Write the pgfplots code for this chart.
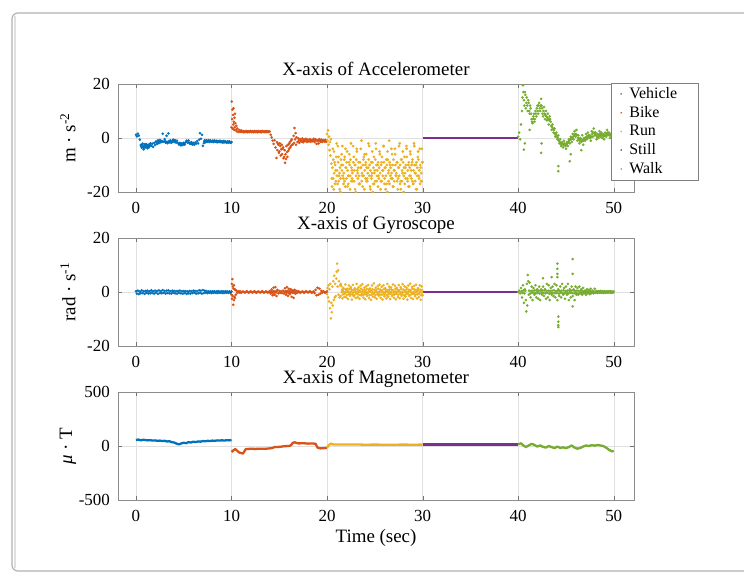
\documentclass[border=0pt]{standalone}
\usepackage{fontspec}
\setmainfont{Liberation Serif}
\usepackage{pgfplots}
\pgfplotsset{compat=1.18}

\definecolor{veh}{RGB}{0,114,189}
\definecolor{bike}{RGB}{217,83,25}
\definecolor{run}{RGB}{237,177,32}
\definecolor{still}{RGB}{126,47,142}
\definecolor{walk}{RGB}{119,172,48}

\pgfplotsset{
  panel/.style={
    scale only axis, width=516bp, height=108bp,
    xmin=-1.88, xmax=52.12,
    xtick={0,10,...,50},
    grid=major, major grid style={black!12},
    axis line style={black!45}, tick style={black!55},
    major tick length=4bp, tick align=inside,
    /pgf/number format/assume math mode=true,
    tick label style={font=\fontsize{17}{17}\selectfont},
    x tick label style={anchor=base, yshift=-22bp},
    y tick label style={anchor=east, inner sep=0pt, xshift=-8bp},
    title style={font=\fontsize{19}{19}\selectfont, at={(0.5,1)}, anchor=base, yshift=3bp},
    y label style={font=\fontsize{19}{19}\selectfont, at={(axis description cs:-0.097,0.5)}, anchor=center},
    x label style={font=\fontsize{19}{19}\selectfont, at={(axis description cs:0.5,-0.352)}, anchor=center},
  },
  dots/.style={#1, only marks, mark=*, mark size=1.1bp, forget plot},
  trace/.style={#1, line width=2.3bp, line join=round, no marks, forget plot},
}

\begin{document}
\begin{tikzpicture}
\path[use as bounding box] (0,0) rectangle (744bp,577bp);
\fill[white] (0,0) rectangle (744bp,577bp);
\draw[black!30, line width=1.2bp, rounded corners=6bp] (12bp,6bp) rectangle (770bp,564bp);
\draw[black!12, line width=1.5bp] (15bp,9bp) -- (15bp,561bp);

% ---- accelerometer
\begin{axis}[panel, at={(118bp,385bp)}, anchor=south west,
  ymin=-20, ymax=20, ytick={-20,0,20},
  title={X-axis of Accelerometer},
  ylabel={m · s\textsuperscript{-2}},
  legend image code/.code={\path (0bp,-4bp) (14bp,4bp); \fill[#1, draw=none] (8bp,0bp) circle (0.9bp);},
  legend style={at={(0.955,1.01)}, anchor=north west, draw=black!50,
    font=\fontsize{16}{16}\selectfont, inner xsep=2bp, inner ysep=2.5bp, row sep=2.4bp,
    cells={anchor=west}},
  ]
\addlegendimage{veh}
\addlegendentry{Vehicle\hspace*{17bp}}
\addlegendimage{bike}
\addlegendentry{Bike}
\addlegendimage{run}
\addlegendentry{Run}
\addlegendimage{still}
\addlegendentry{Still}
\addlegendimage{walk}
\addlegendentry{Walk}

\addplot[dots=veh] coordinates {
(0,1.2)(0.1,0.6)(0.2,1.6)(0.3,0.9)(0.4,-0.6)(0.5,-2.6)(0.6,-3.6)(0.7,-2.1)(0.8,-4.2)(0.9,-2.7)
(1,-3.4)(1.1,-2.3)(1.2,-3.8)(1.3,-2.5)(1.4,-3.1)(1.5,-2)(1.6,-2.9)(1.7,-2.1)(1.8,-3.3)(1.9,-1.8)
(2,-2.6)(2.1,-1.3)(2.2,-2.2)(2.3,-0.9)(2.4,-1.9)(2.5,-0.7)(2.6,-1.6)(2.7,-1.1)(2.8,1.6)(2.9,-1.4)
(3,-0.4)(3.1,-1.7)(3.2,0.8)(3.3,-1.9)(3.4,1.7)(3.5,-1.6)(3.6,-0.9)(3.7,-1.8)(3.8,-1.3)(3.9,-0.6)
(4,-1.5)(4.1,-0.8)(4.2,-1.7)(4.3,-1)(4.4,-1.9)(4.5,-2.4)(4.6,-1.8)(4.7,-2.7)(4.8,-2)(4.9,-2.6)
(5,-1.8)(5.1,-2.4)(5.2,-1.6)(5.3,-1)(5.4,-1.7)(5.5,-0.9)(5.6,-1.8)(5.7,-2.2)(5.8,-1.5)(5.9,-2.4)
(6,-1.8)(6.1,-2.5)(6.2,-1.7)(6.3,-2.1)(6.4,-1.2)(6.5,-2)(6.6,-0.6)(6.7,1.8)(6.8,-0.3)(6.9,1.2)
(7,-2.9)(7.1,-1.9)(7.2,-0.8)(7.3,-1.6)(7.4,-0.9)(7.5,-1.4)(7.6,-0.8)(7.7,-1.5)(7.8,-0.9)(7.9,-1.4)
(8,-1)(8.1,-1.5)(8.2,-0.9)(8.3,-1.4)(8.4,-1)(8.5,-1.6)(8.6,-1.1)(8.7,-1.5)(8.8,-1)(8.9,-1.6)
(9,-1.2)(9.1,-1.7)(9.2,-1.1)(9.3,-1.6)(9.4,-1.3)(9.5,-1.8)(9.6,-1.2)(9.7,-1.7)(9.8,-1.3)(9.9,-1.8)(10,-1.5)
(0.55,-3)(0.65,-2.4)(0.75,-3.2)(0.85,-3.6)(0.95,-2.2)(1.05,-2.9)(1.15,-3.1)(1.25,-2.8)(1.35,-3.5)(1.45,-2.6)
(4.55,-2.1)(4.65,-2.3)(4.75,-2.2)(4.85,-2.4)(4.95,-2.1)(5.05,-2.2)(5.65,-2)(5.75,-1.9)(5.85,-2)(5.95,-2.1)
(2.15,-1.8)(2.35,-1.5)(2.55,-1.2)(2.75,-1.3)(3.05,-1.2)(3.25,-1.4)(3.45,-1.1)(3.65,-1.4)(3.85,-1)(4.05,-1.2)
(7.15,-1.2)(7.35,-1.2)(7.55,-1.1)(7.75,-1.2)(7.95,-1.2)(8.15,-1.2)(8.35,-1.2)(8.55,-1.3)(8.75,-1.3)(8.95,-1.4)
(9.15,-1.4)(9.35,-1.5)(9.55,-1.5)(9.75,-1.5)(9.95,-1.6)
};
\addplot[dots=bike] coordinates {
(10,4)(10.03,13.5)(10.06,7)(10.09,10.5)(10.12,3.5)(10.15,8.5)(10.18,5)(10.21,11)(10.24,6)(10.27,3)
(10.3,7.5)(10.33,4)(10.36,9)(10.4,5.5)(10.45,3)(10.5,4.5)(10.55,2.5)(10.6,3.5)(10.7,2.2)(10.8,3)
(10.9,2.3)(11,2.8)(11.1,2.2)(11.2,2.6)(11.3,2.1)(11.4,2.5)(11.5,2.2)(11.6,2.6)(11.7,2.1)(11.8,2.5)
(11.9,2.2)(12,2.6)(12.1,2.2)(12.2,2.5)(12.3,2.1)(12.4,2.6)(12.5,2.2)(12.6,2.5)(12.7,2.1)(12.8,2.6)
(12.9,2.2)(13,2.5)(13.1,2.1)(13.2,2.6)(13.3,2.2)(13.4,2.5)(13.5,2.1)(13.6,2.6)(13.7,2.2)(13.8,2.5)
(13.9,2.2)(14,2.4)(14.1,1.2)(14.2,0.2)(14.3,-1)(14.4,-2.2)(14.5,-0.8)(14.6,-3.5)(14.7,-7.4)(14.75,-1.5)
(14.8,-4.5)(14.85,-2)(14.9,-2.5)(14.95,-5.5)(15,-5)(15.05,-2)(15.1,-3)(15.15,-6.5)(15.2,-4.2)(15.25,-2.5)
(15.3,-6)(15.35,-4)(15.4,-3.5)(15.45,-7.5)(15.5,-7)(15.55,-4.5)(15.6,-9.2)(15.65,-6)(15.7,-7.8)(15.75,-3)
(15.8,-5.2)(15.85,-7)(15.9,-2.5)(15.95,-4.8)(16,-4)(16.05,-2)(16.1,-1.5)(16.15,-3.5)(16.2,-3)(16.25,-1)
(16.3,-0.5)(16.35,-2.5)(16.4,-2.4)(16.5,0.8)(16.55,-1.8)(16.6,3.7)(16.65,-0.5)(16.7,1.8)(16.75,-2.5)(16.8,0.3)
(16.9,-1.5)(17,-0.2)(17.1,-1.8)(17.2,-0.4)(17.3,-1.3)(17.4,-0.2)(17.5,-1.6)(17.6,-0.5)(17.7,-1.2)(17.8,-0.3)
(17.9,-1.5)(18,-0.6)(18.1,-1.3)(18.2,-0.4)(18.3,-1.4)(18.4,-0.7)(18.5,-1.2)(18.6,-0.3)(18.7,-1.5)(18.8,-0.5)
(18.9,-2.2)(19,-0.8)(19.1,-2)(19.2,-0.4)(19.3,-1.4)(19.4,-0.6)(19.5,-1.5)(19.6,-0.8)(19.7,-1.3)(19.8,-0.7)
(19.9,-1.4)(20,-1)
(11.05,2.4)(11.25,2.4)(11.45,2.4)(11.65,2.4)(11.85,2.4)(12.05,2.4)(12.25,2.4)(12.45,2.4)(12.65,2.4)(12.85,2.4)
(13.05,2.4)(13.25,2.4)(13.45,2.4)(13.65,2.4)(13.85,2.4)(17.05,-1)(17.25,-0.9)(17.45,-1)(17.65,-0.9)(17.85,-1)
(18.05,-1)(18.25,-0.9)(18.45,-1)(18.65,-0.9)(18.85,-1)(19.05,-1)(19.25,-0.9)(19.45,-1)(19.65,-0.9)(19.85,-1)
};
\addplot[dots=run, mark size=1.2bp] coordinates {
(20,1.5)(20.05,-1)(20.1,2.8)(20.15,-2.5)(20.2,0.5)(20.25,-4.5)(20.3,-1.5)(20.35,-6.5)(20.4,-0.5)(20.45,-9.5)
(20.5,-15)(20.6,-4)(20.7,-19)(20.8,-9)(20.9,-12)(21,-2)(21.1,-17)(21.2,-7)(21.3,-13)(21.4,-20)
(21.5,-10)(21.6,-3)(21.7,-15)(21.8,-8)(21.9,-18)(22,-11)(22.1,-5)(22.2,-14)(22.3,-9)(22.4,-19)
(22.5,-2)(22.6,-12)(22.7,-16)(22.8,-7)(22.9,-10)(23,-20)(23.1,-4)(23.2,-13)(23.3,-9)(23.4,-17)
(23.5,-11)(23.6,-1)(23.7,-14)(23.8,-8)(23.9,-19)(24,-10)(24.1,-6)(24.2,-15)(24.3,-11)(24.4,-3)
(24.5,-18)(24.6,-9)(24.7,-13)(24.8,-20)(24.9,-7)(25,-12)(25.1,-2)(25.2,-16)(25.3,-10)(25.4,-14)
(25.5,-5)(25.6,-19)(25.7,-9)(25.8,-12)(25.9,-3)(26,-17)(26.1,-11)(26.2,-8)(26.3,-20)(26.4,-13)
(26.5,-1)(26.6,-10)(26.7,-15)(26.8,-6)(26.9,-18)(27,-12)(27.1,-4)(27.2,-14)(27.3,-9)(27.4,-19)
(27.5,-11)(27.6,-2)(27.7,-16)(27.8,-8)(27.9,-13)(28,-20)(28.1,-7)(28.2,-11)(28.3,-3)(28.4,-15)
(28.5,-10)(28.6,-18)(28.7,-5)(28.8,-12)(28.9,-9)(29,-17)(29.1,-2)(29.2,-13)(29.3,-10)(29.4,-19)
(29.5,-7)(29.6,-14)(29.7,-4)(29.8,-11)(29.9,-16)(30,-9)
(20.55,-11)(20.65,-8)(20.75,-13)(20.85,-10)(20.95,-7)(21.05,-12)(21.15,-9)(21.25,-14)(21.35,-11)(21.45,-8)
(21.55,-12)(21.65,-10)(21.75,-13)(21.85,-7)(21.95,-11)(22.05,-9)(22.15,-12)(22.25,-14)(22.35,-10)(22.45,-8)
(22.55,-11)(22.65,-13)(22.75,-9)(22.85,-12)(22.95,-10)(23.05,-8)(23.15,-12)(23.25,-11)(23.35,-14)(23.45,-9)
(23.55,-11)(23.65,-13)(23.75,-10)(23.85,-7)(23.95,-12)(24.05,-9)(24.15,-11)(24.25,-13)(24.35,-8)(24.45,-10)
(24.55,-12)(24.65,-14)(24.75,-9)(24.85,-11)(24.95,-13)(25.05,-8)(25.15,-10)(25.25,-12)(25.35,-9)(25.45,-11)
(25.55,-13)(25.65,-10)(25.75,-7)(25.85,-12)(25.95,-9)(26.05,-11)(26.15,-14)(26.25,-10)(26.35,-8)(26.45,-12)
(26.55,-9)(26.65,-11)(26.75,-13)(26.85,-10)(26.95,-8)(27.05,-12)(27.15,-10)(27.25,-13)(27.35,-9)(27.45,-11)
(27.55,-14)(27.65,-10)(27.75,-8)(27.85,-12)(27.95,-9)(28.05,-11)(28.15,-13)(28.25,-10)(28.35,-7)(28.45,-12)
(28.55,-9)(28.65,-11)(28.75,-14)(28.85,-10)(28.95,-8)(29.05,-12)(29.15,-10)(29.25,-13)(29.35,-9)(29.45,-11)
(29.55,-8)(29.65,-12)(29.75,-10)(29.85,-13)(29.95,-9)
(20.525,-18)(20.725,-5)(20.925,-16)(21.125,-3)(21.325,-19)(21.525,-6)(21.725,-17)(21.925,-4)(22.125,-18)(22.325,-6)
(22.525,-16)(22.725,-3)(22.925,-19)(23.125,-5)(23.325,-17)(23.525,-4)(23.725,-18)(23.925,-6)(24.125,-16)(24.325,-2)
(24.525,-19)(24.725,-5)(24.925,-17)(25.125,-4)(25.325,-18)(25.525,-6)(25.725,-16)(25.925,-3)(26.125,-19)(26.325,-5)
(26.525,-17)(26.725,-4)(26.925,-18)(27.125,-6)(27.325,-16)(27.525,-3)(27.725,-19)(27.925,-5)(28.125,-17)(28.325,-4)
(28.525,-18)(28.725,-6)(28.925,-16)(29.125,-3)(29.325,-19)(29.525,-5)(29.725,-17)(29.925,-4)
(20.625,-15)(20.825,-17)(21.025,-14)(21.225,-16)(21.425,-15)(21.625,-14)(21.825,-16)(22.025,-15)(22.225,-17)(22.425,-14)
(22.625,-15)(22.825,-16)(23.025,-14)(23.225,-15)(23.425,-17)(23.625,-16)(23.825,-14)(24.025,-15)(24.225,-16)(24.425,-14)
(24.625,-15)(24.825,-17)(25.025,-16)(25.225,-14)(25.425,-15)(25.625,-16)(25.825,-14)(26.025,-15)(26.225,-17)(26.425,-16)
(26.625,-14)(26.825,-15)(27.025,-16)(27.225,-14)(27.425,-15)(27.625,-17)(27.825,-16)(28.025,-14)(28.225,-15)(28.425,-16)
(28.625,-14)(28.825,-15)(29.025,-17)(29.225,-16)(29.425,-14)(29.625,-15)(29.825,-16)
};
\addplot[trace=still, line width=2bp] coordinates {(30,0)(40,0)};
\addplot[dots=walk] coordinates {
(40,0.5)(40.1,2)(40.2,-0.5)(40.3,5)(40.4,10)(40.5,19.5)(40.6,14)(40.7,17)(40.8,11)(40.9,15)
(41,10)(41.1,13)(41.2,9)(41.3,11)(41.4,7)(41.5,5.5)(41.6,8)(41.7,6)(41.8,10)(41.9,8)
(42,12)(42.1,9)(42.2,13)(42.3,10)(42.4,14.5)(42.5,11)(42.6,8)(42.7,11.5)(42.8,7)(42.9,10)
(43,6.5)(43.1,9)(43.2,5)(43.3,8)(43.4,6)(43.5,3)(43.6,5)(43.7,2)(43.8,3.5)(43.9,0.5)
(44,2)(44.1,-0.5)(44.2,1)(44.3,-2)(44.4,-0.5)(44.5,-3)(44.6,-1.5)(44.7,-3.5)(44.8,-1)(44.9,-2.5)
(45,-4)(45.1,-1.5)(45.2,-3)(45.3,-0.5)(45.4,-2)(45.5,0.5)(45.6,-1.5)(45.7,1.5)(45.8,-0.5)(45.9,2.5)
(46,0.5)(46.1,3)(46.2,-1)(46.3,1)(46.4,-2)(46.5,0)(46.6,-1.5)(46.7,1)(46.8,-2.5)(46.9,0)
(47,-1)(47.1,1.5)(47.2,-0.5)(47.3,2)(47.4,0)(47.5,1)(47.6,-1)(47.7,2.5)(47.8,0.5)(47.9,3.5)
(48,1)(48.1,2)(48.2,-0.5)(48.3,1.5)(48.4,0)(48.5,2.5)(48.6,0.5)(48.7,2)(48.8,0)(48.9,1.5)
(49,-0.5)(49.1,2)(49.2,0.5)(49.3,3)(49.4,1)(49.5,2)(49.6,0)(49.7,1.5)(49.8,0.5)(49.9,2)(50,1)
(40.45,15)(40.55,17)(40.65,12)(40.75,16)(40.85,13)(40.95,12)(41.05,14)(41.15,10)(41.25,12)(41.35,9)
(41.45,6)(41.55,7)(41.65,9)(41.75,7)(41.85,9)(41.95,11)(42.05,10)(42.15,12)(42.25,11)(42.35,12)
(42.45,12)(42.55,9)(42.65,10)(42.75,9)(42.85,8.5)(42.95,8)(43.05,7.5)(43.15,7)(43.25,6.5)(43.35,7)
(43.45,4.5)(43.55,4)(43.65,3.5)(43.75,3)(43.85,1.5)(43.95,1)(44.05,0.5)(44.15,0)(44.25,-1)(44.35,-1.5)
(44.45,-2)(44.55,-2.5)(44.65,-2)(44.75,-2.5)(44.85,-2)(44.95,-3)(45.05,-2.5)(45.15,-2)(45.25,-1.5)(45.35,-1)
(45.45,-0.5)(45.55,-0.5)(45.65,0)(45.75,0.5)(45.85,1)(45.95,1.5)(46.05,1.5)(46.15,1)(46.25,0)(46.35,-0.5)
(46.45,-1)(46.55,-0.5)(46.65,-0.5)(46.75,-1)(46.85,-1)(46.95,-0.5)(47.05,0)(47.15,0.5)(47.25,0.5)(47.35,1)
(47.45,0.5)(47.55,0)(47.65,0.5)(47.75,1.5)(47.85,2)(47.95,2)(48.05,1.5)(48.15,1)(48.25,0.5)(48.35,0.5)
(48.45,1)(48.55,1.5)(48.65,1)(48.75,1)(48.85,1)(48.95,0.5)(49.05,1)(49.15,1)(49.25,1.5)(49.35,2)
(49.45,1.5)(49.55,1)(49.65,1)(49.75,1)(49.85,1)(49.95,1.5)
(40.6,-4.3)(40.7,-2)(41.2,3)(42.4,-5.5)(42.45,-2)(44.2,-10.4)(44.2,-12.3)(45.4,-8.6)(45.5,-6)(46.6,-4.5)
};
\end{axis}

% ---- gyroscope
\begin{axis}[panel, at={(118bp,231bp)}, anchor=south west,
  ymin=-20, ymax=20, ytick={-20,0,20},
  title={X-axis of Gyroscope},
  ylabel={rad · s\textsuperscript{-1}},
  ]
\addplot[dots=veh] coordinates {
(0,0.3)(0.1,-0.6)(0.2,0.5)(0.3,-0.8)(0.4,0.2)(0.5,-0.5)(0.6,0.6)(0.7,-0.4)(0.8,0.3)(0.9,-0.7)
(1,0.4)(1.1,-0.3)(1.2,0.5)(1.3,-0.6)(1.4,0.2)(1.5,-0.5)(1.6,0.6)(1.7,-0.4)(1.8,0.3)(1.9,-0.6)
(2,0.5)(2.1,-0.3)(2.2,0.4)(2.3,-0.7)(2.4,0.6)(2.5,-0.4)(2.6,0.3)(2.7,-0.5)(2.8,0.7)(2.9,-0.3)
(3,0.4)(3.1,-0.6)(3.2,0.5)(3.3,-0.4)(3.4,0.6)(3.5,-0.5)(3.6,0.3)(3.7,-0.6)(3.8,0.5)(3.9,-0.3)
(4,0.4)(4.1,-0.5)(4.2,0.3)(4.3,-0.6)(4.4,0.4)(4.5,-0.4)(4.6,0.5)(4.7,-0.5)(4.8,0.3)(4.9,-0.6)
(5,0.4)(5.1,-0.4)(5.2,0.3)(5.3,-0.7)(5.4,0.2)(5.5,-0.5)(5.6,0.4)(5.7,-0.6)(5.8,0.3)(5.9,-0.4)
(6,0.5)(6.1,-0.3)(6.2,0.4)(6.3,-0.6)(6.4,0.3)(6.5,-0.5)(6.6,0.6)(6.7,-0.4)(6.8,0.5)(6.9,-0.6)
(7,0.7)(7.1,-0.4)(7.2,0.5)(7.3,-0.3)(7.4,0.3)(7.5,-0.4)(7.6,0.2)(7.7,-0.3)(7.8,0.3)(7.9,-0.4)
(8,0.2)(8.1,-0.3)(8.2,0.3)(8.3,-0.3)(8.4,0.2)(8.5,-0.4)(8.6,0.3)(8.7,-0.3)(8.8,0.2)(8.9,-0.3)
(9,0.3)(9.1,-0.4)(9.2,0.2)(9.3,-0.3)(9.4,0.3)(9.5,-0.3)(9.6,0.2)(9.7,-0.3)(9.8,0.2)(9.9,-0.3)(10,0.2)
};
\addplot[dots=bike] coordinates {
(10,-1)(10.03,3)(10.06,-2.5)(10.09,4.8)(10.12,-1.5)(10.15,2)(10.18,-4.7)(10.21,1.2)(10.24,-3)(10.27,2.5)
(10.3,-1.8)(10.33,1)(10.36,-2.2)(10.4,0.8)(10.45,-1)(10.5,0.5)(10.6,-0.3)(10.7,0.3)(10.8,-0.2)(10.9,0.3)
(11,-0.3)(11.2,0.2)(11.4,-0.2)(11.6,0.3)(11.8,-0.3)(12,0.2)(12.2,-0.2)(12.4,0.3)(12.6,-0.3)(12.8,0.2)
(13,-0.2)(13.2,0.3)(13.4,-0.3)(13.6,0.2)(13.8,-0.2)(14,0.4)(14.1,-0.6)(14.2,1)(14.3,-1.2)(14.4,1.6)
(14.5,-1)(14.6,1.8)(14.7,-1.5)(14.8,0.8)(14.9,-0.5)(15,0.4)(15.1,-0.3)(15.2,0.3)(15.3,-0.4)(15.4,0.5)
(15.5,-0.6)(15.6,1.4)(15.7,-1)(15.8,1.8)(15.9,-1.4)(16,1.2)(16.1,-0.8)(16.2,1)(16.3,-1.8)(16.4,0.6)
(16.5,-2.2)(16.6,0.8)(16.7,-0.6)(16.8,0.4)(16.9,-0.3)(17,0.3)(17.2,-0.3)(17.4,0.2)(17.6,-0.3)(17.8,0.3)
(18,-0.2)(18.2,0.3)(18.4,-0.3)(18.6,0.2)(18.7,-0.4)(18.8,0.8)(18.9,-1.2)(19,1.6)(19.1,-1)(19.2,1.2)
(19.3,-0.6)(19.4,0.4)(19.5,-0.3)(19.6,0.3)(19.8,-0.3)(20,0.2)
(11.1,0)(11.3,0)(11.5,0)(11.7,0)(11.9,0)(12.1,0)(12.3,0)(12.5,0)(12.7,0)(12.9,0)(13.1,0)(13.3,0)(13.5,0)(13.7,0)(13.9,0)
(17.1,0)(17.3,0)(17.5,0)(17.7,0)(17.9,0)(18.1,0)(18.3,0)(18.5,0)(19.7,0)(19.9,0)
(14.05,0)(14.15,0.2)(14.25,-0.2)(14.35,0.3)(14.45,-0.3)(14.55,0.3)(14.65,-0.2)(14.75,0.2)(15.55,0)(15.65,0.3)
(15.75,-0.3)(15.85,0.4)(15.95,-0.3)(16.05,0.3)(16.15,-0.2)(16.25,0.3)(16.35,-0.3)(16.45,0.2)(16.55,-0.4)(16.65,0.2)
};
\addplot[dots=run] coordinates {
(20,-0.8)(20.05,1.5)(20.1,-2)(20.15,2.5)(20.2,-3.5)(20.25,1)(20.3,-6)(20.35,3)(20.4,-9.8)(20.45,-4)
(20.5,-7.5)(20.55,2)(20.6,-5)(20.65,4)(20.7,-3)(20.75,6)(20.8,-2)(20.85,3)(20.9,-1.5)(20.95,5)
(21,7.5)(21.05,10.5)(21.1,2)(21.15,8)(21.2,-1)(21.25,4)(21.3,-2)(21.35,2.5)(21.4,-1.5)(21.45,3)
(21.5,2.2)(21.6,-2.4)(21.7,1.5)(21.8,-1.8)(21.9,2.8)(22,-2)(22.1,1.2)(22.2,-2.6)(22.3,2.4)(22.4,-1.4)
(22.5,1.8)(22.6,-2.8)(22.7,2.6)(22.8,-1.6)(22.9,1.4)(23,-2.2)(23.1,3)(23.2,-1.9)(23.3,1.7)(23.4,-2.5)
(23.5,2.3)(23.6,-1.3)(23.7,2.9)(23.8,-2.1)(23.9,1.6)(24,-2.7)(24.1,2.1)(24.2,-1.5)(24.3,2.6)(24.4,-2.3)
(24.5,1.3)(24.6,-2.9)(24.7,2.4)(24.8,-1.7)(24.9,3.2)(25,-2)(25.1,1.6)(25.2,-2.5)(25.3,2.2)(25.4,-1.4)
(25.5,2.7)(25.6,-2.2)(25.7,1.9)(25.8,-2.8)(25.9,2.5)(26,-1.6)(26.1,1.4)(26.2,-2.4)(26.3,3)(26.4,-1.8)
(26.5,2)(26.6,-2.6)(26.7,1.7)(26.8,-1.5)(26.9,2.8)(27,-2.1)(27.1,2.3)(27.2,-2.7)(27.3,1.5)(27.4,-1.9)
(27.5,2.6)(27.6,-2.3)(27.7,1.8)(27.8,-1.4)(27.9,2.9)(28,-2.5)(28.1,2.1)(28.2,-1.7)(28.3,1.6)(28.4,-2.8)
(28.5,2.4)(28.6,-1.5)(28.7,3.1)(28.8,-2.2)(28.9,1.9)(29,-2.6)(29.1,2.2)(29.2,-1.6)(29.3,2.7)(29.4,-2.4)
(29.5,1.4)(29.6,-1.9)(29.7,2.5)(29.8,-2.9)(29.9,2.1)(30,-1.2)
(21.55,0.8)(21.65,-0.9)(21.75,1.1)(21.85,-0.6)(21.95,0.9)(22.05,-1.1)(22.15,0.6)(22.25,-0.8)(22.35,1.2)(22.45,-0.7)
(22.55,0.9)(22.65,-1)(22.75,0.7)(22.85,-1.2)(22.95,0.8)(23.05,-0.6)(23.15,1)(23.25,-0.9)(23.35,0.6)(23.45,-1.1)
(23.55,1.2)(23.65,-0.7)(23.75,0.8)(23.85,-1)(23.95,0.7)(24.05,-0.8)(24.15,1.1)(24.25,-0.6)(24.35,0.9)(24.45,-1.2)
(24.55,0.6)(24.65,-0.9)(24.75,1)(24.85,-0.7)(24.95,0.8)(25.05,-1.1)(25.15,0.7)(25.25,-0.8)(25.35,1.2)(25.45,-0.6)
(25.55,0.9)(25.65,-1)(25.75,0.6)(25.85,-0.9)(25.95,1.1)(26.05,-0.7)(26.15,0.8)(26.25,-1.2)(26.35,0.7)(26.45,-0.8)
(26.55,1)(26.65,-0.6)(26.75,0.9)(26.85,-1.1)(26.95,0.6)(27.05,-0.9)(27.15,1.2)(27.25,-0.7)(27.35,0.8)(27.45,-1)
(27.55,0.7)(27.65,-0.8)(27.75,1.1)(27.85,-0.6)(27.95,0.9)(28.05,-1.2)(28.15,0.6)(28.25,-0.9)(28.35,1)(28.45,-0.7)
(28.55,0.8)(28.65,-1.1)(28.75,0.7)(28.85,-0.8)(28.95,1.2)(29.05,-0.6)(29.15,0.9)(29.25,-1)(29.35,0.6)(29.45,-0.9)
(29.55,1.1)(29.65,-0.7)(29.75,0.8)(29.85,-1.2)(29.95,0.7)
(21.525,0)(21.725,0.2)(21.925,-0.2)(22.125,0.1)(22.325,-0.1)(22.525,0.2)(22.725,-0.2)(22.925,0)(23.125,0.1)(23.325,-0.1)
(23.525,0.2)(23.725,0)(23.925,-0.2)(24.125,0.1)(24.325,-0.1)(24.525,0.2)(24.725,0)(24.925,-0.2)(25.125,0.1)(25.325,-0.1)
(25.525,0.2)(25.725,0)(25.925,-0.2)(26.125,0.1)(26.325,-0.1)(26.525,0.2)(26.725,0)(26.925,-0.2)(27.125,0.1)(27.325,-0.1)
(27.525,0.2)(27.725,0)(27.925,-0.2)(28.125,0.1)(28.325,-0.1)(28.525,0.2)(28.725,0)(28.925,-0.2)(29.125,0.1)(29.325,-0.1)
(29.525,0.2)(29.725,0)(29.925,-0.2)
};
\addplot[trace=still, line width=2bp] coordinates {(30,0)(40,0)};
\addplot[dots=walk] coordinates {
(40,0)(40.1,0.5)(40.2,-0.5)(40.3,1.5)(40.4,-2)(40.5,2.5)(40.6,-4)(40.7,1)(40.8,-3)(40.85,-7.2)(40.9,3)
(40.95,-5)(41,6.3)(41.05,4)(41.1,-1)(41.2,3.5)(41.3,-2)(41.4,2)(41.5,-3)(41.6,1.5)(41.7,-1)
(41.8,2.5)(41.9,-2)(42,1)(42.1,-2.5)(42.2,2)(42.3,-3)(42.4,1)(42.5,-1)(42.6,2)(42.7,-1.5)
(42.8,1)(42.9,-2.5)(43,3)(43.1,-2)(43.2,2.5)(43.3,-3)(43.4,1.5)(43.5,-1)(43.6,2)(43.7,-1.5)
(43.8,3)(43.9,-2)(44,2.5)(44.1,-3)(44.2,1)(44.3,-1.5)(44.4,2)(44.5,-2)(44.6,3)(44.7,-1)
(44.8,1.5)(44.9,-2.5)(45,2)(45.1,-1)(45.2,3)(45.3,-3)(45.4,1)(45.5,-2)(45.6,2)(45.7,-1.5)
(45.8,1)(45.9,-3)(46,2)(46.1,-1)(46.2,1.5)(46.3,-1)(46.4,2)(46.5,-0.5)(46.6,1)(46.7,-1)
(46.8,1.5)(46.9,-0.5)(47,0.5)(47.1,-1)(47.2,1)(47.3,-0.5)(47.4,0.8)(47.5,-0.8)(47.6,1.2)(47.7,-0.5)
(47.8,0.5)(47.9,-0.5)(48,1.2)(48.1,-0.3)(48.2,0.4)(48.3,-0.4)(48.4,0.3)(48.5,-0.3)(48.6,0.4)(48.7,-0.3)
(48.8,0.3)(48.9,-0.4)(49,0.3)(49.1,-0.3)(49.2,0.2)(49.3,-0.3)(49.4,0.3)(49.5,-0.2)(49.6,0.3)(49.7,-0.3)
(49.8,0.2)(49.9,-0.3)(50,0.2)
(40.35,0.3)(40.45,-0.4)(40.55,0.6)(40.65,-0.5)(40.75,0.4)(41.15,0.5)(41.25,-0.6)(41.35,0.4)(41.45,-0.3)(41.55,0.5)
(41.65,-0.4)(41.75,0.6)(41.85,-0.5)(41.95,0.3)(42.05,-0.4)(42.15,0.5)(42.25,-0.6)(42.35,0.4)(42.45,-0.3)(42.55,0.5)
(42.65,-0.4)(42.75,0.6)(42.85,-0.5)(42.95,0.4)(43.05,-0.3)(43.15,0.5)(43.25,-0.6)(43.35,0.4)(43.45,-0.3)(43.55,0.5)
(43.65,-0.4)(43.75,0.6)(43.85,-0.5)(43.95,0.3)(44.05,-0.4)(44.15,0.5)(44.25,-0.6)(44.35,0.4)(44.45,-0.3)(44.55,0.5)
(44.65,-0.4)(44.75,0.6)(44.85,-0.5)(44.95,0.4)(45.05,-0.3)(45.15,0.5)(45.25,-0.6)(45.35,0.4)(45.45,-0.3)(45.55,0.5)
(45.65,-0.4)(45.75,0.6)(45.85,-0.5)(45.95,0.4)(46.05,-0.3)(46.15,0.5)(46.25,-0.6)(46.35,0.4)(46.45,-0.3)(46.55,0.5)
(46.65,-0.4)(46.75,0.3)(46.85,-0.3)(46.95,0.4)(47.05,-0.3)(47.15,0.3)(47.25,-0.4)(47.35,0.3)(47.45,-0.3)(47.55,0.2)
(47.65,0)(47.75,0.1)(47.85,-0.1)(47.95,0)(48.05,0.1)(48.15,0)(48.25,-0.1)(48.35,0)(48.45,0.1)(48.55,0)
(48.65,-0.1)(48.75,0)(48.85,0.1)(48.95,0)(49.05,-0.1)(49.15,0)(49.25,0.1)(49.35,0)(49.45,-0.1)(49.55,0)
(49.65,0.1)(49.75,0)(49.85,-0.1)(49.95,0)
(44.1,10.5)(44.1,8.6)(44.1,6.7)(44.1,5.5)(44.2,-9.1)(44.2,-11)(44.2,-12.3)(44.2,-13)
(45.7,12.2)(45.7,6.7)(45.7,-5.3)(42.6,5.1)(43.5,5.5)
};
\end{axis}

% ---- magnetometer
\begin{axis}[panel, at={(118bp,77bp)}, anchor=south west,
  ymin=-500, ymax=500, ytick={-500,0,500},
  title={X-axis of Magnetometer},
  ylabel={\textit{μ} · T},
  xlabel={Time (sec)},
  ]
\addplot[trace=veh] coordinates {
(0,55)(0.25,60)(0.5,52)(0.75,58)(1,55)(1.25,52)(1.5,54)(1.75,50)(2,52)(2.25,48)
(2.5,50)(2.75,46)(3,48)(3.25,42)(3.5,44)(3.75,36)(4,32)(4.25,22)(4.5,15)(4.75,24)
(5,30)(5.25,26)(5.5,36)(5.75,32)(6,40)(6.25,36)(6.5,42)(6.75,40)(7,46)(7.25,44)
(7.5,48)(7.75,46)(8,50)(8.25,48)(8.5,52)(8.75,50)(9,53)(9.25,50)(9.5,54)(9.75,52)(10,55)
};
\addplot[trace=bike] coordinates {
(10,-55)(10.2,-40)(10.4,-28)(10.6,-45)(10.8,-60)(11,-65)(11.2,-70)(11.5,-28)(12,-26)(12.5,-27)
(13,-25)(13.5,-26)(14,-22)(14.3,-18)(14.5,-10)(15,-8)(15.3,-5)(15.5,-2)(16,0)(16.2,5)
(16.4,28)(16.6,35)(16.8,28)(17,24)(17.5,26)(18,22)(18.5,24)(18.8,20)(19,-15)(19.3,-22)(19.6,-20)(20,-18)
};
\addplot[trace=run] coordinates {
(20,-15)(20.2,10)(20.4,22)(20.6,15)(21,14)(22,13)(23,14)(24,12)(25,13)(26,12)(27,12)(28,13)(29,12)(30,13)
};
\addplot[trace=still] coordinates {(30,15)(40,15)};
\addplot[trace=walk] coordinates {
(40,15)(40.3,25)(40.5,8)(40.8,-10)(41.1,5)(41.4,20)(41.7,10)(42,-5)(42.3,5)(42.6,-8)
(42.9,-15)(43.2,0)(43.5,-10)(43.8,-20)(44.1,-5)(44.4,-18)(44.7,-12)(45,-20)(45.3,-10)(45.6,5)
(45.9,-15)(46.2,-25)(46.5,-18)(46.8,-5)(47.1,5)(47.4,0)(47.7,8)(48,3)(48.3,10)(48.6,5)
(48.9,0)(49.2,-15)(49.5,-35)(49.8,-50)(50,-45)
};
\end{axis}
\end{tikzpicture}
\end{document}
